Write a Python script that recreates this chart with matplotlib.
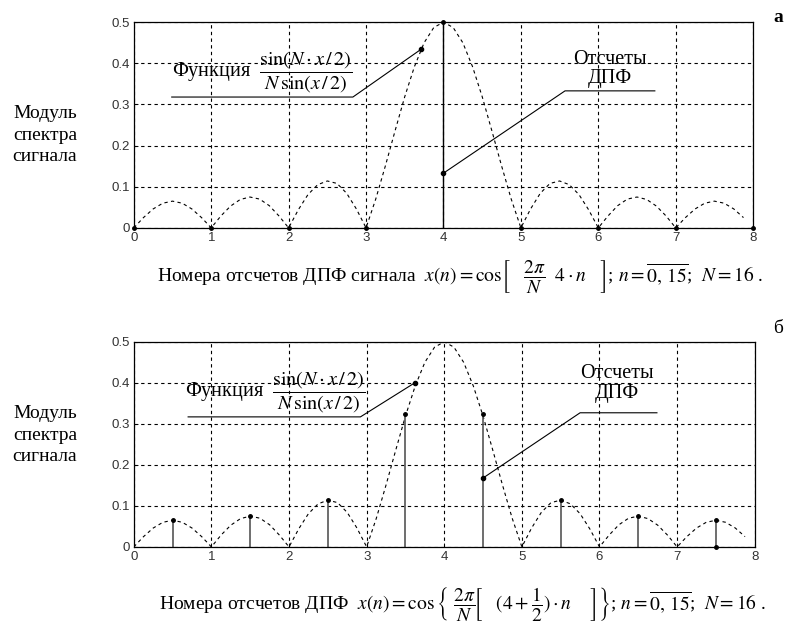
import numpy as np
import matplotlib
matplotlib.use("Agg")
import matplotlib.pyplot as plt

plt.rcParams['font.family'] = ['Liberation Serif', 'DejaVu Serif']
plt.rcParams['mathtext.fontset'] = 'stix'

# |sin(N x/2) / (N sin(x/2))|, step 1/8 of a bin (0 .. 7.875)
curve_vals = [
    0.000, 0.025, 0.046, 0.060, 0.065, 0.060, 0.046, 0.025,
    0.000, 0.029, 0.053, 0.069, 0.075, 0.070, 0.054, 0.029,
    0.000, 0.044, 0.081, 0.105, 0.114, 0.108, 0.084, 0.046,
    0.000, 0.070, 0.151, 0.236, 0.319, 0.392, 0.450, 0.487,
    0.500, 0.487, 0.450, 0.392, 0.319, 0.236, 0.151, 0.070,
    0.000, 0.046, 0.084, 0.108, 0.114, 0.105, 0.081, 0.044,
    0.000, 0.029, 0.054, 0.070, 0.075, 0.069, 0.053, 0.029,
    0.000, 0.025, 0.046, 0.060, 0.065, 0.060, 0.046, 0.025,
]
curve_x = np.arange(len(curve_vals)) / 8.0

# panel a: DFT samples at integer bins
bins_a = [0, 1, 2, 3, 4, 5, 6, 7, 8]
dft_a = [0, 0, 0, 0, 0.5, 0, 0, 0, 0]

# panel b: DFT samples at half bins
bins_b = [0.5, 1.5, 2.5, 3.5, 4.5, 5.5, 6.5, 7.5]
dft_b = [0.065, 0.075, 0.115, 0.325, 0.325, 0.115, 0.075, 0.065]

# annotation anchor points (points on the curve / samples)
func_pt_a = (3.71, 0.434)
samp_pt_a = (4.0, 0.133)
func_pt_b = (3.62, 0.40)
samp_pt_b = (4.5, 0.168)

ylabel = "Модуль\nспектра\nсигнала"
func_label = r"Функция  $\dfrac{\sin(N\cdot x\,/\,2)}{N\,\sin(x\,/\,2)}$"
samp_label = "Отсчеты\nДПФ"
xlabel_a = (r"Номера отсчетов ДПФ сигнала  $x(n) = \cos\!\left[\ \ \ \dfrac{2\pi}{N}\ \ 4\cdot n\ \ \ \right]$"
            r"; $n = \overline{0,\,15}$;  $N = 16$ .")
xlabel_b = (r"Номера отсчетов ДПФ  $x(n) = \cos\left\{\ \dfrac{2\pi}{N}\!\left[\ \ \ (4+\dfrac{1}{2})\cdot n\ \ \ \ \right]\right\}$"
            r"; $n = \overline{0,\,15}$;  $N = 16$ .")

fig = plt.figure(figsize=(7.87, 6.33), dpi=100)
ax_a = fig.add_axes([0.170, 0.640, 0.787, 0.325])
ax_b = fig.add_axes([0.170, 0.136, 0.789, 0.324])


def style_axes(ax):
    ax.set_xlim(0, 8)
    ax.set_ylim(0, 0.5)
    ax.set_xticks(range(9))
    ax.set_yticks([0, 0.1, 0.2, 0.3, 0.4, 0.5])
    ax.set_yticklabels(["0", "0.1", "0.2", "0.3", "0.4", "0.5"])
    ax.grid(True, color="black", linestyle=(0, (3, 3)), linewidth=0.8)
    ax.tick_params(direction="in", length=3, width=0.6, labelsize=9.5, pad=3,
                   labelcolor="#333333")
    for lab in ax.get_xticklabels() + ax.get_yticklabels():
        lab.set_fontfamily("Liberation Sans")
    for sp in ax.spines.values():
        sp.set_linewidth(0.9)
    ax.plot(curve_x, curve_vals, color="black", linestyle=(0, (3, 3)), linewidth=0.8)


def leader(ax, x0, x1, yh, pt):
    ax.plot([x0, x1, pt[0]], [yh, yh, pt[1]], color="black", linewidth=0.8)
    ax.plot(*pt, "o", color="black", markersize=3)


# ---- panel a
style_axes(ax_a)
ax_a.vlines(4, 0, 0.5, color="black", linewidth=1.0)
ax_a.plot(bins_a, dft_a, "o", color="black", markersize=2.5, clip_on=False)
leader(ax_a, 0.49, 2.83, 0.318, func_pt_a)
leader(ax_a, 6.73, 5.57, 0.333, samp_pt_a)
ax_a.text(0.49, 0.379, func_label, fontsize=14.5, ha="left", va="center")
ax_a.text(6.15, 0.386, samp_label, fontsize=14.5, ha="center", va="center", linespacing=1.05)
ax_a.set_xlabel(xlabel_a, fontsize=14)
ax_a.xaxis.set_label_coords(0.527, -0.145, transform=ax_a.transAxes)
ax_a.xaxis.label.set_va("top")

# ---- panel b
style_axes(ax_b)
ax_b.vlines(bins_b, 0, dft_b, color="#555555", linewidth=1.2)
ax_b.plot(bins_b, dft_b, "o", color="black", markersize=2.5)
ax_b.plot(7.5, 0, "o", color="black", markersize=2.5, clip_on=False)
leader(ax_b, 0.70, 2.92, 0.317, func_pt_b)
leader(ax_b, 6.74, 5.75, 0.327, samp_pt_b)
ax_b.text(0.66, 0.376, func_label, fontsize=14.5, ha="left", va="center")
ax_b.text(6.22, 0.398, samp_label, fontsize=14.5, ha="center", va="center", linespacing=1.05)
ax_b.set_xlabel(xlabel_b, fontsize=14)
ax_b.xaxis.set_label_coords(0.529, -0.185, transform=ax_b.transAxes)
ax_b.xaxis.label.set_va("top")

# y labels as free text, left of each panel
fig.text(45 / 787, 1 - 135 / 633, ylabel, fontsize=14, ha="center", va="center",
         linespacing=1.35)
fig.text(45 / 787, 1 - 435 / 633, ylabel, fontsize=14, ha="center", va="center",
         linespacing=1.35)

fig.text(0.995, 0.985, "а", fontsize=14, fontweight="bold", ha="right", va="top")
fig.text(0.995, 0.495, "б", fontsize=14, ha="right", va="top")

fig.savefig("out.png", dpi=100)
